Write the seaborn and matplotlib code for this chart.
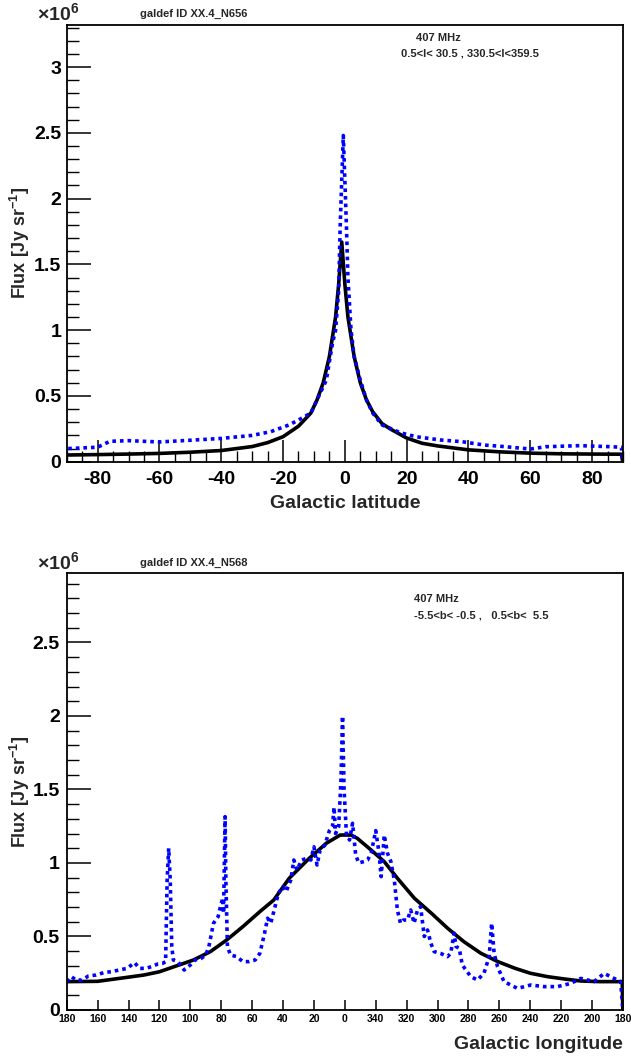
import numpy as np
import pandas as pd
import matplotlib
matplotlib.use("Agg")
import matplotlib.pyplot as plt
import seaborn as sns
from matplotlib.ticker import MultipleLocator

sns.set_theme(style="white")
plt.rcParams['font.family'] = ['Liberation Sans', 'DejaVu Sans']
plt.rcParams['font.weight'] = 'bold'
plt.rcParams['mathtext.fontset'] = 'custom'
plt.rcParams['mathtext.rm'] = 'Liberation Sans'
plt.rcParams['mathtext.bf'] = 'Liberation Sans:bold'
plt.rcParams['mathtext.it'] = 'Liberation Sans:italic'

# ---------------- data (units of 1e6 Jy/sr) ----------------
# Top panel: latitude profile
lat_model = [-89.5, -80, -70, -60, -50, -40, -30, -25, -20, -15, -11, -9, -7, -5, -3, -2, -1,
             0, 1, 3, 5, 7, 9, 12, 15, 20, 25, 30, 40, 50, 60, 70, 80, 89.5, 89.9]
flux_model_lat = [0.051, 0.054, 0.058, 0.063, 0.072, 0.085, 0.115, 0.145, 0.19, 0.27, 0.37, 0.47, 0.60,
                  0.80, 1.10, 1.35, 1.67, 1.35, 1.10, 0.80, 0.60, 0.47, 0.38, 0.29, 0.245, 0.18, 0.14,
                  0.12, 0.09, 0.075, 0.065, 0.06, 0.058, 0.057, 0.0]

lat_data = [-89.5, -80, -76, -70, -60, -50, -40, -30, -24, -18, -14, -11, -8, -6, -4, -3, -2, -1.5,
            -0.5, 0.5, 1, 2, 3, 5, 7, 9, 12, 16, 18, 23, 31, 38, 45, 52, 60, 65, 76, 86, 89.5, 89.9]
flux_data_lat = [0.10, 0.11, 0.155, 0.16, 0.15, 0.163, 0.177, 0.20, 0.228, 0.28, 0.33, 0.37, 0.52, 0.62,
                 0.90, 1.0, 1.3, 1.8, 2.48, 1.8, 1.4, 1.0, 0.8, 0.62, 0.47, 0.37, 0.28, 0.24, 0.22, 0.19,
                 0.165, 0.152, 0.127, 0.114, 0.096, 0.114, 0.122, 0.114, 0.11, 0.0]

# Bottom panel: longitude profile (l > 180 stored as l - 360)
lon_model = [180, 160, 141, 130, 120, 109, 98, 87, 76.5, 66, 55, 46, 36, 23, 12, 3, -4, -8, -17,
             -25.5, -34, -45, -56, -66.5, -77, -88, -99, -110, -120, -131, -142, -153, -165,
             -179.5, -179.9]
flux_model_lon = [0.193, 0.195, 0.222, 0.238, 0.26, 0.30, 0.34, 0.397, 0.476, 0.567, 0.669, 0.748,
                  0.896, 1.032, 1.134, 1.19, 1.19, 1.168, 1.088, 1.009, 0.896, 0.76, 0.658, 0.556,
                  0.465, 0.386, 0.329, 0.284, 0.25, 0.227, 0.211, 0.197, 0.193, 0.193, 0.0]

lon_data = [180, 177, 174, 170, 166, 161, 156, 151, 146, 141, 136, 133, 129, 125, 121, 118, 116,
            115, 114, 113, 112, 111, 108, 104, 100, 97, 93, 90, 88, 85, 82, 80, 79, 78.5, 77.5,
            77, 76, 74, 70, 66, 62, 58, 55, 52, 50, 48, 46, 43, 40, 38, 35, 33, 31, 28, 25, 22,
            20, 18, 16, 13, 10, 8, 7, 6, 4, 2.5, 1.5, 0.5, -1, -3, -5, -7, -9, -12.5, -14.7, -17,
            -20, -22, -23.5, -25.5, -27.6, -29.8, -32, -34, -36, -38, -40.5, -42.6, -44.8, -47,
            -49, -51.4, -53.5, -55.7, -57.8, -62, -66.4, -68.5, -70.7, -72, -74, -76, -81.5,
            -85.8, -90, -93.4, -95, -96.6, -98.8, -103, -107.4, -111.7, -120.3, -128.9, -137.6,
            -146.2, -152.7, -161.3, -167.8, -174.2, -178.5, -179.9]
flux_data_lon = [0.193, 0.227, 0.204, 0.204, 0.231, 0.238, 0.254, 0.261, 0.272, 0.283, 0.322, 0.283,
                 0.283, 0.295, 0.313, 0.317, 0.328, 0.884, 1.10, 0.884, 0.431, 0.34, 0.328, 0.272,
                 0.306, 0.34, 0.351, 0.374, 0.431, 0.59, 0.635, 0.726, 0.76, 0.658, 1.315, 0.884,
                 0.431, 0.374, 0.363, 0.329, 0.329, 0.34, 0.385, 0.52, 0.624, 0.59, 0.669, 0.794,
                 0.839, 0.805, 0.884, 1.02, 0.952, 1.02, 1.03, 1.02, 1.11, 0.986, 1.088, 1.12, 1.22,
                 1.247, 1.38, 1.20, 1.247, 1.565, 2.0, 1.50, 1.20, 1.156, 1.27, 1.054, 1.0, 1.01,
                 1.02, 1.066, 1.22, 1.078, 0.907, 1.19, 1.066, 1.009, 0.884, 0.68, 0.59, 0.612,
                 0.612, 0.68, 0.59, 0.68, 0.703, 0.50, 0.544, 0.453, 0.397, 0.385, 0.363, 0.385,
                 0.522, 0.431, 0.42, 0.306, 0.227, 0.204, 0.249, 0.363, 0.59, 0.385, 0.295, 0.193,
                 0.17, 0.147, 0.17, 0.159, 0.159, 0.181, 0.215, 0.193, 0.249, 0.215, 0.193, 0.0]

lat_ticks = [-80, -60, -40, -20, 0, 20, 40, 60, 80]
lat_ticklabels = ["-80", "-60", "-40", "-20", "0", "20", "40", "60", "80"]
lon_ticks = [180, 160, 140, 120, 100, 80, 60, 40, 20, 0, -20, -40, -60, -80, -100, -120, -140, -160, -180]
lon_ticklabels = ["180", "160", "140", "120", "100", "80", "60", "40", "20", "0", "340", "320",
                  "300", "280", "260", "240", "220", "200", "180"]

df_lat_m = pd.DataFrame({"x": lat_model, "y": flux_model_lat})
df_lat_d = pd.DataFrame({"x": lat_data, "y": flux_data_lat})
df_lon_m = pd.DataFrame({"x": lon_model, "y": flux_model_lon})
df_lon_d = pd.DataFrame({"x": lon_data, "y": flux_data_lon})

W, H = 631, 1061
fig = plt.figure(figsize=(W / 100, H / 100), dpi=100)
fig.patch.set_facecolor("white")


def frac(x0, y0, x1, y1):
    return [x0 / W, 1 - y1 / H, (x1 - x0) / W, (y1 - y0) / H]


ax1 = fig.add_axes(frac(66.7, 25, 623, 461.7))
ax2 = fig.add_axes(frac(66.7, 573.3, 623, 1010))

blue = "#0000ff"
for ax, dm, dd in [(ax1, df_lat_m, df_lat_d), (ax2, df_lon_m, df_lon_d)]:
    sns.lineplot(data=dm, x="x", y="y", ax=ax, color="black", linewidth=2.6,
                 estimator=None, sort=False)
    sns.lineplot(data=dd, x="x", y="y", ax=ax, color=blue, linewidth=2.6,
                 linestyle=(0, (1.0, 1.1)), estimator=None, sort=False)
    ax.set_facecolor("white")
    for s in ax.spines.values():
        s.set_color("black")
        s.set_linewidth(1.3)
        s.set_visible(True)
    ax.tick_params(axis="both", which="both", direction="in", colors="black",
                   top=False, right=False, bottom=True, left=True)
    ax.tick_params(axis="y", which="major", length=17, width=1.1, labelsize=14, pad=4)
    ax.tick_params(axis="y", which="minor", length=8.5, width=1.0)
    ax.yaxis.set_minor_locator(MultipleLocator(0.1))

# top panel axes
ax1.set_xlim(-90, 90)
ax1.set_ylim(0, 3.32)
ax1.set_yticks([0, 0.5, 1, 1.5, 2, 2.5, 3])
ax1.set_yticklabels(["0", "0.5", "1", "1.5", "2", "2.5", "3"], fontweight="bold")
ax1.yaxis.set_minor_locator(MultipleLocator(0.1))
ax1.set_xticks(lat_ticks)
ax1.set_xticklabels(lat_ticklabels, fontweight="bold")
ax1.xaxis.set_minor_locator(MultipleLocator(5))
ax1.tick_params(axis="x", which="major", length=16, width=1.1, labelsize=14, pad=7)
ax1.tick_params(axis="x", which="minor", length=8, width=1.0)
ax1.set_xlabel("Galactic latitude", fontsize=14, fontweight="bold", labelpad=5)
ax1.set_ylabel(r"Flux [Jy sr$^{\mathbf{-1}}$]", fontsize=13, fontweight="bold")
ax1.yaxis.set_label_coords(-0.062, 0.5)

# bottom panel axes
ax2.set_xlim(180, -180)
ax2.set_ylim(0, 2.97)
ax2.set_yticks([0, 0.5, 1, 1.5, 2, 2.5])
ax2.set_yticklabels(["0", "0.5", "1", "1.5", "2", "2.5"], fontweight="bold")
ax2.yaxis.set_minor_locator(MultipleLocator(0.1))
ax2.tick_params(axis="y", which="major", pad=5)
ax2.set_xticks(lon_ticks)
ax2.set_xticklabels(lon_ticklabels, fontweight="bold", fontsize=7.5)
ax2.tick_params(axis="x", which="major", length=7, width=1.1, pad=3)
ax2.tick_params(axis="x", which="minor", length=0)
ax2.set_xlabel("Galactic longitude", fontsize=14, fontweight="bold")
ax2.xaxis.set_label_coords(1.0, -0.06)
ax2.xaxis.label.set_horizontalalignment("right")
ax2.set_ylabel(r"Flux [Jy sr$^{\mathbf{-1}}$]", fontsize=13, fontweight="bold")
ax2.yaxis.set_label_coords(-0.062, 0.5)

# annotations
fig.text(37 / W, 1 - 20 / H, r"$\times$10$^{\mathbf{6}}$", fontsize=14, fontweight="bold", va="baseline")
fig.text(140 / W, 1 - 17 / H, "galdef ID XX.4_N656", fontsize=8, fontweight="bold", va="baseline")
fig.text(416 / W, 1 - 41 / H, "407 MHz", fontsize=8, fontweight="bold", va="baseline")
fig.text(401 / W, 1 - 56 / H, "0.5<l< 30.5 , 330.5<l<359.5", fontsize=8, fontweight="bold", va="baseline")

fig.text(37 / W, 1 - 569 / H, r"$\times$10$^{\mathbf{6}}$", fontsize=14, fontweight="bold", va="baseline")
fig.text(140 / W, 1 - 566 / H, "galdef ID XX.4_N568", fontsize=8, fontweight="bold", va="baseline")
fig.text(414 / W, 1 - 602 / H, "407 MHz", fontsize=8, fontweight="bold", va="baseline")
fig.text(414 / W, 1 - 619 / H, "-5.5<b< -0.5 ,   0.5<b<  5.5", fontsize=8, fontweight="bold", va="baseline")

fig.savefig("out.png", dpi=100, facecolor="white")
